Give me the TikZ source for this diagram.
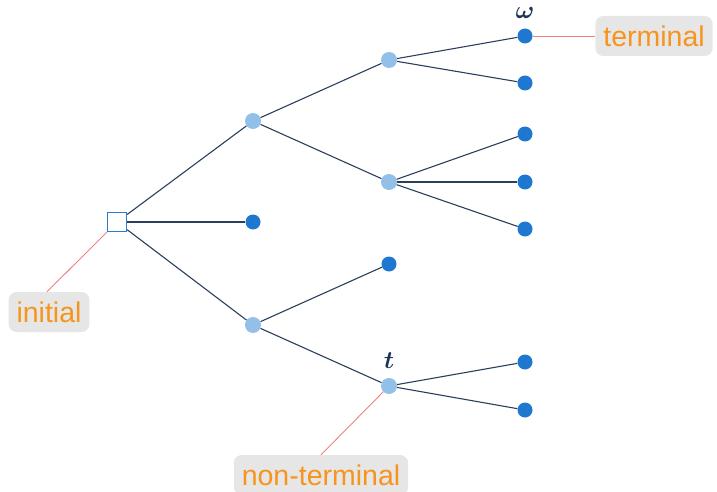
\documentclass[tikz,border=0pt]{standalone}
\usepackage{bm}
\usepackage{fontspec}
\setsansfont{Liberation Sans}
\definecolor{edgecol}{HTML}{2B3E5C}
\definecolor{lightnode}{HTML}{92C0E8}
\definecolor{darknode}{HTML}{1F78D0}
\definecolor{rootcol}{HTML}{2A7BD0}
\definecolor{callout}{HTML}{F08080}
\definecolor{tagbg}{HTML}{E6E6E6}
\definecolor{tagfg}{HTML}{F7941D}
\definecolor{labcol}{HTML}{1E3557}
\begin{document}
\begin{tikzpicture}[x=1pt,y=-1pt,
  inner/.style={circle,fill=lightnode,minimum size=16pt,inner sep=0pt},
  leaf/.style={circle,fill=darknode,minimum size=15pt,inner sep=0pt},
  root/.style={rectangle,draw=rootcol,line width=1.3pt,fill=white,minimum size=19pt,inner sep=0pt},
  branch/.style={draw=edgecol,line width=1.1pt},
  pointer/.style={draw=callout,line width=0.9pt},
  tag/.style={rounded corners=8pt,fill=tagbg,text=tagfg,font=\sffamily\fontsize{28.5}{28.5}\selectfont,inner xsep=8pt,minimum height=40pt},
  marklab/.style={text=labcol,font=\fontsize{27}{27}\selectfont}]
\useasboundingbox (0,0) rectangle (717,492);
% tree nodes
\node[root] (r) at (117,222) {};
\node[inner] (a) at (253,121) {};
\node[leaf] (b) at (253,222) {};
\node[inner] (c) at (253,325) {};
\node[inner] (a1) at (389,60) {};
\node[inner] (a2) at (389,182) {};
\node[leaf] (c1) at (389,264) {};
\node[inner] (c2) at (389,386) {};
\node[leaf] (a11) at (525,36) {};
\node[leaf] (a12) at (525,83) {};
\node[leaf] (a21) at (525,134) {};
\node[leaf] (a22) at (525,182) {};
\node[leaf] (a23) at (525,229) {};
\node[leaf] (c21) at (525,362) {};
\node[leaf] (c22) at (525,410) {};
% branches
\foreach \u/\v in {r/a,r/b,r/c,a/a1,a/a2,c/c1,c/c2,a1/a11,a1/a12,a2/a21,a2/a22,a2/a23,c2/c21,c2/c22}
  \draw[branch] (\u) -- (\v);
% node marks
\node[marklab] (om) at (525,13) {$\bm{\omega}$};
\node[marklab] (tl) at (389,361) {$\bm{t}$};
% callout tags
\node[tag] (tinit) at (49,312) {initial};
\node[tag] (tterm) at (654,36) {terminal};
\node[tag] (tnon) at (321,475) {non-terminal};
\draw[pointer] ([xshift=-2pt]tinit.north) -- (r.south west);
\draw[pointer] (a11) -- (tterm.west);
\draw[pointer] (tnon.north) -- (c2);
\end{tikzpicture}
\end{document}
